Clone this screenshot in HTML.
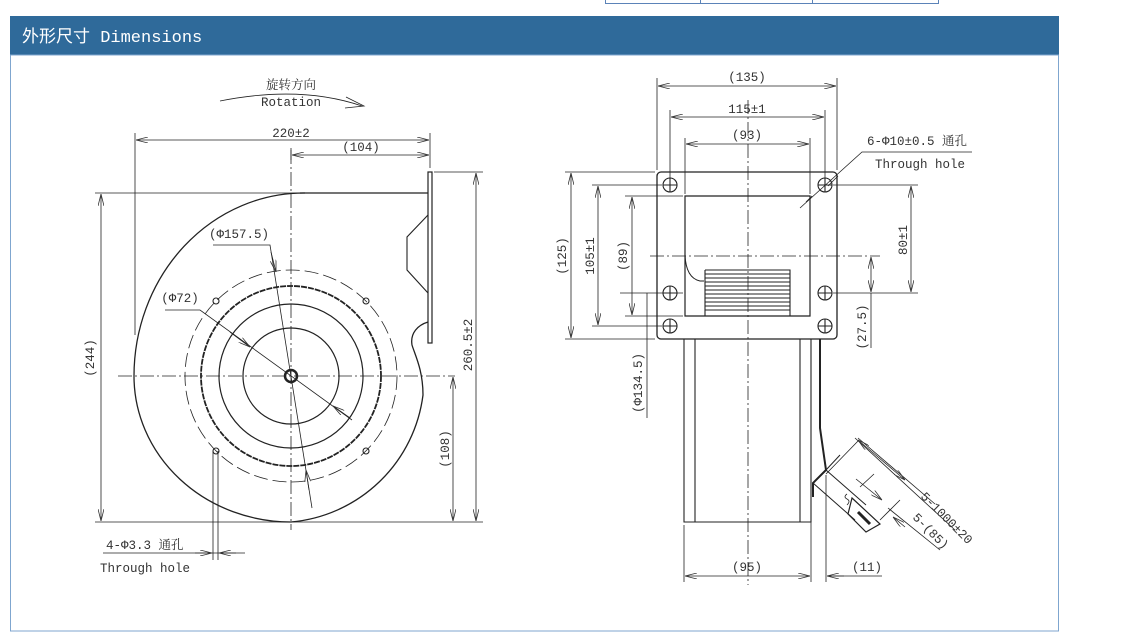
<!DOCTYPE html>
<html><head><meta charset="utf-8"><style>
html,body{margin:0;padding:0;background:#fff;width:1146px;height:640px;overflow:hidden}
svg{display:block}
text{font-family:"Liberation Mono","Noto Serif CJK SC",monospace;fill:#333;font-size:12.5px}
</style></head><body>
<svg width="1146" height="640" viewBox="0 0 1146 640" xmlns="http://www.w3.org/2000/svg">
<defs>
<marker id="a" markerWidth="12" markerHeight="6" refX="12" refY="3" orient="auto-start-reverse" markerUnits="userSpaceOnUse"><path d="M0,0 L12,3 L0,6" fill="none" stroke="#333" stroke-width="0.8"/></marker>
</defs>
<g stroke="#5b83b8" stroke-width="1" fill="none"><path d="M605.5,0 V3.5 H938.5 V0 M700.5,0 V3.5 M812.5,0 V3.5"/></g>
<rect x="10" y="16" width="1049" height="39" fill="#2f6a9a"/>
<text x="22" y="42" style="font-family:'Liberation Mono','Noto Sans CJK SC',monospace;font-size:17px;fill:#fff">外形尺寸 Dimensions</text>
<rect x="10.5" y="55" width="1048" height="576" fill="none" stroke="#7fa6cf" stroke-width="1"/>

<g stroke="#222" fill="none" stroke-width="0.8">
<path d="M220,101 Q300,85 362,106"/><path d="M346,97 L364,106 L345,108"/>
<path d="M291,150 V530" stroke-dasharray="14,3,2,3"/>
<path d="M118,376 H455" stroke-dasharray="14,3,2,3"/>
<path d="M300,193 H428" stroke-width="1.3"/>
<path d="M305,193 A170,183 0 0 0 134,376 A157,146 0 0 0 291,522 A146,146 0 0 0 423,395 C423,370 415,355 412,345 C410,333 418,325 428,322" stroke-width="1.3"/>
<rect x="428" y="172" width="4" height="171" stroke-width="1.2"/>
<path d="M428,215 L407,237 V270 L428,293" stroke-width="1.1"/>
<circle cx="291" cy="376" r="106" stroke-dasharray="14,5"/>
<circle cx="291" cy="376" r="90" stroke-width="1.8" stroke-dasharray="6,1"/>
<circle cx="291" cy="376" r="72" stroke-width="1.2"/>
<circle cx="291" cy="376" r="48" stroke-width="1.2"/>
<circle cx="291" cy="376" r="6" stroke-width="2.5"/>
<circle cx="216" cy="301" r="3" stroke-width="1.1"/><circle cx="366" cy="301" r="3" stroke-width="1.1"/>
<circle cx="216" cy="451" r="3" stroke-width="1.1"/><circle cx="366" cy="451" r="3" stroke-width="1.1"/>
<path d="M135,133 V335"/><path d="M430,133 V168"/>
<path d="M136,140 H429" marker-start="url(#a)" marker-end="url(#a)"/>
<path d="M291,148 V160"/>
<path d="M292,155 H429" marker-start="url(#a)" marker-end="url(#a)"/>
<path d="M95,193 H300"/><path d="M95,522 H483"/>
<path d="M101,194 V521" marker-start="url(#a)" marker-end="url(#a)"/>
<path d="M434,172 H483"/>
<path d="M476,173 V521" marker-start="url(#a)" marker-end="url(#a)"/>
<path d="M453,377 V521" marker-start="url(#a)" marker-end="url(#a)"/>
<path d="M213,245 H270 L312,508"/><path d="M271,252 L276,272" marker-end="url(#a)"/><path d="M309,490 L306,470" marker-end="url(#a)"/>
<path d="M165,310 H200 L352,420"/><path d="M230,332 L250,347" marker-end="url(#a)"/><path d="M350,418 L333,406" marker-end="url(#a)"/>
<path d="M213,451 V560 M218,451 V560"/>
<path d="M103,553 H245"/><path d="M195,553 L212,553" marker-end="url(#a)"/><path d="M236,553 L219,553" marker-end="url(#a)"/>

<!-- RIGHT VIEW -->
<path d="M748,100 V585" stroke-dasharray="14,3,2,3"/>
<path d="M650,256 H880" stroke-dasharray="14,3,2,3"/>
<rect x="657" y="172" width="180" height="167" rx="4" stroke-width="1.3"/>
<path d="M685,196 H810 V316 H685 Z" stroke-width="1.2"/>
<path d="M685,255 Q686,278 700,281 H704" stroke-width="1"/>
<g stroke-width="1.1">
<path d="M705,270 H790 V316 M705,270 V316"/>
<path d="M705,274 H790 M705,278 H790 M705,282 H790 M705,286 H790 M705,290 H790 M705,294 H790 M705,298 H790 M705,302 H790 M705,306 H790 M705,310 H790"/>
</g>
<g stroke-width="1.1">
<circle cx="670" cy="185" r="7"/><path d="M663,185 H677 M670,178 V192"/>
<circle cx="825" cy="185" r="7"/><path d="M818,185 H832 M825,178 V192"/>
<circle cx="670" cy="293" r="7"/><path d="M663,293 H677 M670,286 V300"/>
<circle cx="825" cy="293" r="7"/><path d="M818,293 H832 M825,286 V300"/>
<circle cx="670" cy="326" r="7"/><path d="M663,326 H677 M670,319 V333"/>
<circle cx="825" cy="326" r="7"/><path d="M818,326 H832 M825,319 V333"/>
</g>
<path d="M684,339 V522 H811 V339 M695,339 V522 M800,339 V522" stroke-width="1.1"/>
<path d="M820,339 V428 L826,470 L813,483 V497" stroke-width="2"/>
<path d="M826,470 L866,505 M813,483 L855,520 M826,470 L840,455" stroke-width="1"/>
<path d="M852,498 L880,524 L866,532 L848,514 Z" stroke-width="1.2"/>
<path d="M858,512 L870,524" stroke-width="3"/>
<path d="M847,505 q4,-4 0,-6 q-4,-2 0,-5"/>
<path d="M858,438 L935,504"/><path d="M826,474 L859,440"/>
<path d="M855,438 L955,530"/><path d="M858,440 L905,480" marker-start="url(#a)" marker-end="url(#a)"/>
<path d="M856,479 L882,500" marker-end="url(#a)"/>
<path d="M860,487 L874,474 M880,520 L900,500"/>
<path d="M888,508 L940,550"/><path d="M905,527 L893,517" marker-end="url(#a)"/>
<path d="M657,78 V170 M837,78 V170"/>
<path d="M658,86 H836" marker-start="url(#a)" marker-end="url(#a)"/>
<path d="M670,110 V178 M825,110 V178"/>
<path d="M671,117 H824" marker-start="url(#a)" marker-end="url(#a)"/>
<path d="M685,138 V194 M810,138 V194"/>
<path d="M686,144 H809" marker-start="url(#a)" marker-end="url(#a)"/>
<path d="M565,172 H655 M565,339 H655"/>
<path d="M571,173 V338" marker-start="url(#a)" marker-end="url(#a)"/>
<path d="M592,185 H662 M592,326 H662"/>
<path d="M598,186 V325" marker-start="url(#a)" marker-end="url(#a)"/>
<path d="M625,196 H683 M625,316 H683"/>
<path d="M632,197 V315" marker-start="url(#a)" marker-end="url(#a)"/>
<path d="M833,185 H918 M833,293 H918"/>
<path d="M911,186 V292" marker-start="url(#a)" marker-end="url(#a)"/>
<path d="M871,257 V292" marker-start="url(#a)" marker-end="url(#a)"/>
<path d="M871,293 V348"/>
<path d="M647,293 V418"/><path d="M620,293 H683"/>
<path d="M684,525 V582 M811,342 V582 M826,475 V582"/>
<path d="M685,576 H810" marker-start="url(#a)" marker-end="url(#a)"/>
<path d="M827,576 H882"/><path d="M844,576 L827,576" marker-end="url(#a)"/>
<path d="M972,152 H862 L800,208"/><path d="M838,176 L828,186 M812,196 L806,202"/>
</g>

<text x="291" y="89" text-anchor="middle">旋转方向</text>
<text x="291" y="106" text-anchor="middle">Rotation</text>
<text x="291" y="137" text-anchor="middle">220±2</text>
<text x="361" y="151" text-anchor="middle">(104)</text>
<text x="239" y="238" text-anchor="middle">(Φ157.5)</text>
<text x="180" y="302" text-anchor="middle">(Φ72)</text>
<text x="106" y="549">4-Φ3.3 通孔</text>
<text x="100" y="572">Through hole</text>
<text transform="translate(94,358) rotate(-90)" text-anchor="middle">(244)</text>
<text transform="translate(472,345) rotate(-90)" text-anchor="middle">260.5±2</text>
<text transform="translate(449,449) rotate(-90)" text-anchor="middle">(108)</text>
<text x="747" y="81" text-anchor="middle">(135)</text>
<text x="747" y="113" text-anchor="middle">115±1</text>
<text x="747" y="139" text-anchor="middle">(93)</text>
<text x="867" y="145">6-Φ10±0.5 通孔</text>
<text x="875" y="168">Through hole</text>
<text transform="translate(566,256) rotate(-90)" text-anchor="middle">(125)</text>
<text transform="translate(594,256) rotate(-90)" text-anchor="middle">105±1</text>
<text transform="translate(627,256) rotate(-90)" text-anchor="middle">(89)</text>
<text transform="translate(907,240) rotate(-90)" text-anchor="middle">80±1</text>
<text transform="translate(866,327) rotate(-90)" text-anchor="middle">(27.5)</text>
<text transform="translate(642,383) rotate(-90)" text-anchor="middle">(Φ134.5)</text>
<text x="747" y="571" text-anchor="middle">(95)</text>
<text x="867" y="571" text-anchor="middle">(11)</text>
<text transform="translate(920,497) rotate(45)">5-1000±20</text>
<text transform="translate(912,518) rotate(45)">5-(85)</text>
</svg>
</body></html>
